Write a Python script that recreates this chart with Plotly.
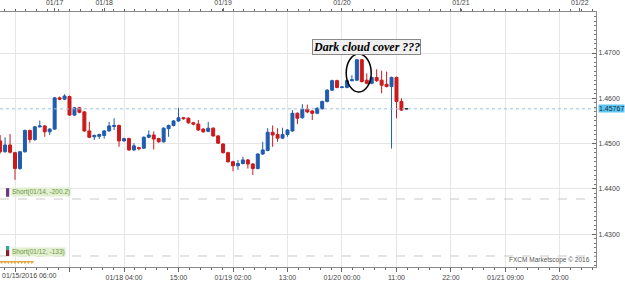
import plotly.graph_objects as go

# ---- data (hourly candles, slot index = hours since 01/15/2016 06:00 on the compressed axis)
slots = list(range(-3, 80))
opens = [1.4506, 1.4482, 1.4497, 1.4480, 1.4445, 1.4482, 1.4529, 1.4509, 1.4537, 1.4539,
         1.4526, 1.4532, 1.4601, 1.4598, 1.4604, 1.4563, 1.4579, 1.4570, 1.4528, 1.4515,
         1.4516, 1.4518, 1.4528, 1.4538, 1.4540, 1.4506, 1.4511, 1.4486, 1.4491, 1.4490,
         1.4514, 1.4519, 1.4511, 1.4504, 1.4533, 1.4540, 1.4550, 1.4557, 1.4556, 1.4546,
         1.4543, 1.4532, 1.4527, 1.4534, 1.4517, 1.4499, 1.4480, 1.4460, 1.4451, 1.4456,
         1.4464, 1.4455, 1.4445, 1.4477, 1.4485, 1.4525, 1.4520, 1.4512, 1.4520, 1.4528,
         1.4567, 1.4557, 1.4576, 1.4572, 1.4567, 1.4577, 1.4593, 1.4618, 1.4639, 1.4624,
         1.4624, 1.4639, 1.4640, 1.4685, 1.4640, 1.4633, 1.4646, 1.4640, 1.4631, 1.4626,
         1.4646, 1.4593, 1.45770]
highs = [1.4519, 1.4514, 1.4521, 1.4482, 1.4484, 1.4531, 1.4531, 1.4539, 1.4551, 1.4541,
         1.4534, 1.4603, 1.4604, 1.4609, 1.4606, 1.4581, 1.4581, 1.4572, 1.4548, 1.4520,
         1.4522, 1.4530, 1.4548, 1.4556, 1.4542, 1.4513, 1.4513, 1.4501, 1.4493, 1.4516,
         1.4529, 1.4527, 1.4513, 1.4536, 1.4542, 1.4552, 1.4579, 1.4559, 1.4558, 1.4548,
         1.4552, 1.4534, 1.4548, 1.4536, 1.4519, 1.4501, 1.4482, 1.4462, 1.4464, 1.4471,
         1.4466, 1.4457, 1.4479, 1.4504, 1.4534, 1.4540, 1.4534, 1.4535, 1.4532, 1.4574,
         1.4569, 1.4587, 1.4586, 1.4574, 1.4580, 1.4595, 1.4620, 1.4641, 1.4641, 1.4626,
         1.4641, 1.4651, 1.4687, 1.4687, 1.4655, 1.4648, 1.4664, 1.4661, 1.4659, 1.4648,
         1.4648, 1.4600, 1.45772]
lows = [1.4478, 1.4480, 1.4478, 1.4420, 1.4442, 1.4480, 1.4502, 1.4506, 1.4535, 1.4515,
        1.4519, 1.4530, 1.4596, 1.4596, 1.4561, 1.4561, 1.4567, 1.4526, 1.4512, 1.4508,
        1.4510, 1.4511, 1.4526, 1.4530, 1.4493, 1.4504, 1.4484, 1.4484, 1.4485, 1.4488,
        1.4512, 1.4487, 1.4502, 1.4502, 1.4515, 1.4538, 1.4548, 1.4553, 1.4544, 1.4540,
        1.4528, 1.4524, 1.4525, 1.4515, 1.4499, 1.4478, 1.4458, 1.4439, 1.4442, 1.4454,
        1.4445, 1.4431, 1.4443, 1.4475, 1.4483, 1.4493, 1.4504, 1.4510, 1.4515, 1.4526,
        1.4543, 1.4555, 1.4567, 1.4552, 1.4565, 1.4575, 1.4591, 1.4616, 1.4622, 1.4622,
        1.4622, 1.4637, 1.4638, 1.4635, 1.4631, 1.4631, 1.4636, 1.4611, 1.4624, 1.4489,
        1.4556, 1.4572, 1.45765]
closes = [1.4482, 1.4497, 1.4481, 1.4445, 1.4482, 1.4529, 1.4509, 1.4537, 1.4539, 1.4526,
          1.4532, 1.4601, 1.4598, 1.4605, 1.4563, 1.4579, 1.4569, 1.4528, 1.4514, 1.4518,
          1.4520, 1.4528, 1.4539, 1.4540, 1.4506, 1.4511, 1.4486, 1.4495, 1.4489, 1.4514,
          1.4519, 1.4510, 1.4504, 1.4534, 1.4540, 1.4550, 1.4557, 1.4555, 1.4546, 1.4543,
          1.4530, 1.4526, 1.4534, 1.4517, 1.4501, 1.4480, 1.4460, 1.4451, 1.4456, 1.4464,
          1.4455, 1.4445, 1.4477, 1.4486, 1.4525, 1.4519, 1.4512, 1.4520, 1.4530, 1.4567,
          1.4556, 1.4576, 1.4570, 1.4567, 1.4578, 1.4593, 1.4618, 1.4639, 1.4624, 1.4625,
          1.4639, 1.4641, 1.4685, 1.4637, 1.4633, 1.4646, 1.4639, 1.4629, 1.4626, 1.4646,
          1.4593, 1.4574, 1.45767]

current_price = 1.45767
bottom_tick_slots = [0, 11, 22, 33, 44, 55, 66, 77, 88, 99, 110]
bottom_tick_text = ["", "", "01/18 04:00", "15:00", "01/19 02:00", "13:00",
                    "01/20 00:00", "11:00", "22:00", "01/21 09:00", "20:00"]
first_bottom_label = "01/15/2016 06:00"
top_tick_slots = [8, 18, 42, 66, 90, 114]
top_tick_text = ["01/17", "01/18", "01/19", "01/20", "01/21", "01/22"]
price_ticks = [1.43, 1.44, 1.45, 1.46, 1.47]
short_levels = [1.43777, 1.42519]
short_labels = ["Short(01/14, -200.2)", "Short(01/12, -133)"]
trade_mark_slots = [-2.7, -2.0, -1.35, -0.67, 0.0, 0.67, 1.35, 2.0, 2.7, 3.4]
trade_mark_price = 1.42386

X_RANGE = [-3.03, 117.27]
Y_RANGE = [1.42276, 1.47905]
BLUE = "#1f5cb0"
RED = "#cc1a1a"
FONT = "Liberation Sans"

fig = go.Figure()
n = len(slots) - 1
fig.add_trace(go.Candlestick(
    x=slots[:n], open=opens[:n], high=highs[:n], low=lows[:n], close=closes[:n],
    increasing=dict(line=dict(color=BLUE, width=1), fillcolor=BLUE),
    decreasing=dict(line=dict(color=RED, width=1), fillcolor=RED),
    whiskerwidth=0, showlegend=False, hoverinfo="skip"))
fig.add_trace(go.Candlestick(
    x=slots[n:], open=opens[n:], high=highs[n:], low=lows[n:], close=closes[n:],
    increasing=dict(line=dict(color="#333333", width=1), fillcolor="#333333"),
    decreasing=dict(line=dict(color="#333333", width=1), fillcolor="#333333"),
    whiskerwidth=0, showlegend=False, hoverinfo="skip"))

# top axis holder + day markers
fig.add_trace(go.Scatter(
    x=top_tick_slots, y=[Y_RANGE[1] + 0.0004] * len(top_tick_slots),
    xaxis="x2", mode="markers", cliponaxis=False,
    marker=dict(symbol="triangle-down", size=6, color="#d9b441"),
    showlegend=False, hoverinfo="skip"))

# trade markers row
fig.add_trace(go.Scatter(
    x=trade_mark_slots, y=[trade_mark_price] * len(trade_mark_slots),
    mode="markers", cliponaxis=False,
    marker=dict(symbol="triangle-down", size=4, color="#e0a640"),
    showlegend=False, hoverinfo="skip"))

shapes = []
# current price dotted line
shapes.append(dict(type="line", xref="paper", x0=0, x1=1, yref="y",
                   y0=current_price, y1=current_price,
                   line=dict(color="#9cc3dc", width=1, dash="dot")))
# short level dashed lines
for lv in short_levels:
    shapes.append(dict(type="line", xref="paper", x0=0, x1=1, yref="y", y0=lv, y1=lv,
                       line=dict(color="#c8c8c8", width=1, dash="dash")))

# ellipse around the two big candles
i69 = slots.index(69)
i70 = slots.index(70)
e_lo = min(lows[i69], lows[i70]) - 0.0021
e_hi = max(highs[i69], highs[i70]) + 0.0011
shapes.append(dict(type="circle", xref="x", yref="y",
                   x0=slots[i69] - 2.15, x1=slots[i70] + 1.9, y0=e_lo, y1=e_hi,
                   line=dict(color="black", width=1.5)))

# short marker squares
shapes.append(dict(type="rect", xref="paper", yref="y", x0=0.010, x1=0.0155,
                   y0=short_levels[0] + 0.0005, y1=short_levels[0] + 0.0024,
                   fillcolor="#6b3a7d", line=dict(width=0)))
shapes.append(dict(type="rect", xref="paper", yref="y", x0=0.010, x1=0.0155,
                   y0=short_levels[1] + 0.0013, y1=short_levels[1] + 0.0022,
                   fillcolor="#3aa39c", line=dict(width=0)))
shapes.append(dict(type="rect", xref="paper", yref="y", x0=0.010, x1=0.0155,
                   y0=short_levels[1], y1=short_levels[1] + 0.0013,
                   fillcolor="#8a1f2e", line=dict(width=0)))

annotations = []
annotations.append(dict(text="<b><i>Dark cloud cover ???</i></b>", x=70.9, y=1.47143,
                        xref="x", yref="y", showarrow=False,
                        font=dict(family="Liberation Serif", size=12, color="black"),
                        bgcolor="#f0f0f0", bordercolor="#888888", borderwidth=1, borderpad=0))
annotations.append(dict(text=f"{current_price:.5f}", x=1, y=current_price, xref="paper",
                        yref="y", xanchor="left", xshift=2, showarrow=False,
                        font=dict(family=FONT, size=7, color="#1a2a3a"),
                        bgcolor="#5cc6f2", borderpad=0))
annotations.append(dict(text=first_bottom_label, x=0, y=0, xref="paper", yref="paper",
                        xanchor="left", yanchor="top", yshift=-3, showarrow=False,
                        font=dict(family=FONT, size=7, color="#444444")))
annotations.append(dict(text="FXCM Marketscope \u00a9 2016", x=0.993, y=0.005, xref="paper",
                        yref="paper", xanchor="right", yanchor="bottom", showarrow=False,
                        font=dict(family=FONT, size=6.5, color="#555555")))
for lv, lab, dy in zip(short_levels, short_labels, [0.0016, 0.0009]):
    annotations.append(dict(text=lab, x=0.019, y=lv + dy, xref="paper", yref="y",
                            xanchor="left", showarrow=False,
                            font=dict(family=FONT, size=6.5, color="#6f9440"),
                            bgcolor="#e2f0d2", borderpad=0))

fig.update_layout(
    width=625, height=281,
    margin=dict(l=0, r=29, t=12, b=14),
    paper_bgcolor="white", plot_bgcolor="white",
    boxgap=0.2, boxgroupgap=0.25,
    shapes=shapes, annotations=annotations,
    showlegend=False,
    xaxis=dict(range=X_RANGE, rangeslider=dict(visible=False),
               tickmode="array", tickvals=bottom_tick_slots, ticktext=bottom_tick_text,
               showgrid=True, gridcolor="#e6e6e6", gridwidth=1,
               showline=True, linecolor="#8a8a8a", linewidth=1,
               ticks="outside", ticklen=4, tickcolor="#666666",
               minor=dict(tickmode="linear", tick0=0, dtick=2.2, ticks="outside",
                          ticklen=2, tickcolor="#666666", showgrid=False),
               tickfont=dict(family=FONT, size=7, color="#444444"),
               zeroline=False, fixedrange=True),
    xaxis2=dict(range=X_RANGE, overlaying="x", side="top",
                tickmode="array", tickvals=top_tick_slots, ticktext=top_tick_text,
                showgrid=False, showline=True, linecolor="#8a8a8a", linewidth=1,
                ticks="outside", ticklen=3, tickcolor="#666666",
                minor=dict(tickmode="linear", tick0=0, dtick=2.2, ticks="outside",
                           ticklen=2, tickcolor="#666666"),
                tickfont=dict(family=FONT, size=7, color="#444444"),
                zeroline=False),
    yaxis=dict(range=Y_RANGE, side="right",
               tickmode="array", tickvals=price_ticks,
               ticktext=[f"{v:.4f}" for v in price_ticks],
               showgrid=True, gridcolor="#e6e6e6", gridwidth=1,
               showline=True, linecolor="#8a8a8a", linewidth=1,
               ticks="inside", ticklen=4, tickcolor="#666666",
               minor=dict(tickmode="linear", tick0=1.43, dtick=0.001, ticks="inside",
                          ticklen=2, tickcolor="#777777", showgrid=False),
               tickfont=dict(family=FONT, size=7, color="#444444"),
               zeroline=False),
)

fig.write_html("out.html")
